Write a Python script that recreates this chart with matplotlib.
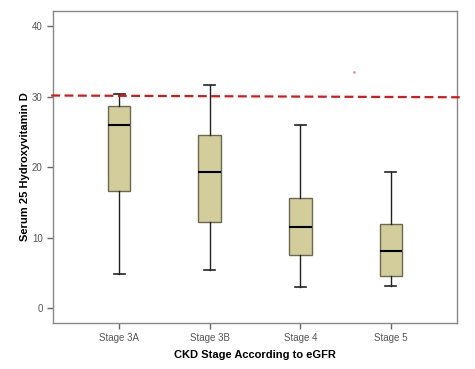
import matplotlib

matplotlib.use("Agg")
matplotlib.rc("font", **{"family": "sans-serif", "sans-serif": ["Liberation Sans", "DejaVu Sans"]})

import matplotlib.pyplot as plt

stages = ["Stage 3A", "Stage 3B", "Stage 4", "Stage 5"]
whisker_low = [4.8, 5.4, 3.0, 3.2]
q1 = [16.7, 12.2, 7.6, 4.55]
medians = [26.0, 19.3, 11.5, 8.1]
q3 = [28.7, 24.6, 15.6, 11.9]
whisker_high = [30.4, 31.7, 26.0, 19.3]
cutoff_line = [30.2, 29.95]
stray_point = (3.59, 33.6)

if __name__ == "__main__":
    fig = plt.figure(figsize=(4.75, 3.69), dpi=100)
    ax = fig.add_axes([0.1116, 0.1247, 0.8505, 0.8455])

    stats = [
        {"whislo": lo, "q1": a, "med": m, "q3": b, "whishi": hi, "fliers": [], "label": s}
        for s, lo, a, m, b, hi in zip(stages, whisker_low, q1, medians, q3, whisker_high)
    ]
    ax.bxp(
        stats,
        positions=[1, 2, 3, 4],
        widths=0.25,
        capwidths=0.12,
        patch_artist=True,
        showfliers=False,
        boxprops=dict(facecolor="#d3cd9c", edgecolor="#6b6a50", linewidth=1.0),
        medianprops=dict(color="black", linewidth=1.5),
        whiskerprops=dict(color="#222222", linewidth=1.0),
        capprops=dict(color="#222222", linewidth=1.2),
    )

    ax.plot([0.25, 4.76], cutoff_line, color="#d7191c", linestyle=(0, (4, 2)),
            linewidth=1.6, clip_on=False, zorder=5)
    ax.plot(*stray_point, marker="s", markersize=0.8, color="#ee8888", linestyle="none")

    ax.set_xlim(0.27, 4.73)
    ax.set_ylim(-2.1, 42.2)
    ax.set_yticks([0, 10, 20, 30, 40])
    ax.set_xticks([1, 2, 3, 4])
    ax.set_xticklabels(stages)

    for spine in ax.spines.values():
        spine.set_color("#888888")
        spine.set_linewidth(1.0)
    ax.tick_params(axis="both", labelsize=7, labelcolor="#555555", color="#666666",
                   length=4, width=1.0)

    ax.set_xlabel("CKD Stage According to eGFR", fontsize=8, fontweight="bold", labelpad=5)
    ax.set_ylabel("Serum 25 Hydroxyvitamin D", fontsize=8, fontweight="bold", labelpad=1)

    fig.savefig("out.png", dpi=100)
